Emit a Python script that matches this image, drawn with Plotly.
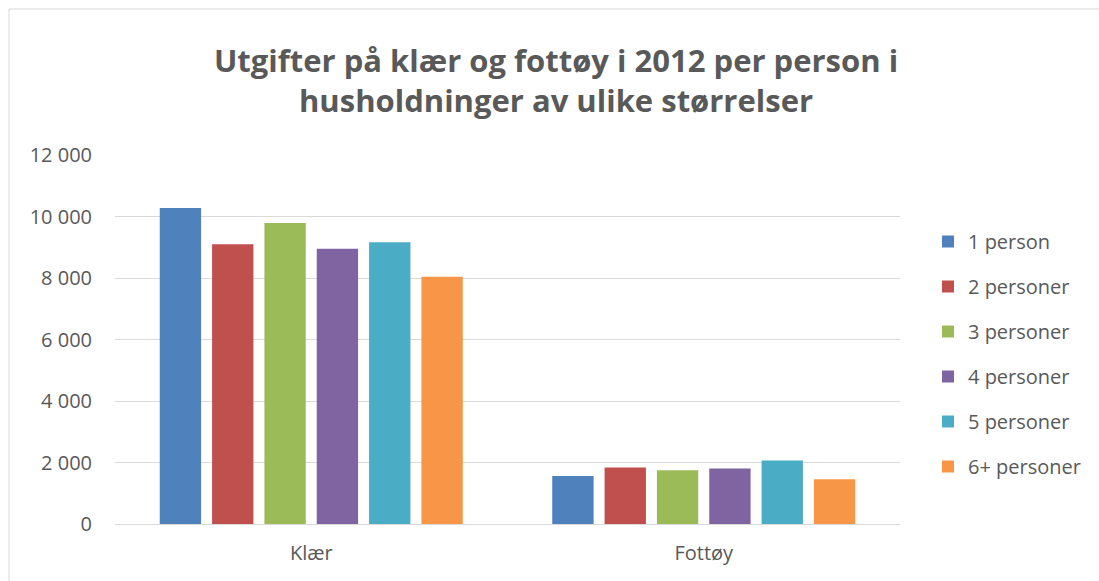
import plotly.graph_objects as go

categories = ["Klær", "Fottøy"]
series_names = ["1 person", "2 personer", "3 personer", "4 personer", "5 personer", "6+ personer"]
values_1 = [10280, 1565]
values_2 = [9100, 1835]
values_3 = [9785, 1750]
values_4 = [8950, 1805]
values_5 = [9165, 2065]
values_6 = [8040, 1455]
colors = ["#4F81BD", "#C0504D", "#9BBB59", "#8064A2", "#4BACC6", "#F79646"]
title_text = "Utgifter på klær og fottøy i 2012 per person i<br>husholdninger av ulike størrelser"

all_values = [values_1, values_2, values_3, values_4, values_5, values_6]

W, H = 1099, 581
L, R, T, B = 115, 199, 155, 57
pw, ph = W - L - R, H - T - B

fig = go.Figure()
for i, (name, vals, col) in enumerate(zip(series_names, all_values, colors)):
    fig.add_trace(go.Bar(
        x=categories, y=vals, name=name, marker_color=col,
        marker_line_width=0, legendgroup=f"g{i}",
    ))

font_family = "Open Sans, Liberation Sans, sans-serif"
fig.update_layout(
    width=W, height=H,
    margin=dict(l=L, r=R, t=T, b=B, pad=0),
    paper_bgcolor="white", plot_bgcolor="white",
    barmode="group", bargap=0.2, bargroupgap=0.21,
    separators=", ",
    font=dict(family=font_family, color="#595959", size=19),
    title=dict(text=title_text, x=556 / W,
               xanchor="center", y=1 - 72 / H, yanchor="middle",
               font=dict(family=font_family, size=31, color="#595959", weight="bold",
                         lineposition="none"),
               ),
    legend=dict(x=(928 - L) / pw, y=1 - (222 - T) / ph, xanchor="left", yanchor="top",
                yref="paper", font=dict(size=20, color="#595959"),
                tracegroupgap=16, itemwidth=30, bgcolor="rgba(0,0,0,0)"),
    showlegend=True,
    xaxis=dict(showgrid=False, showline=True, linecolor="#d9d9d9", linewidth=1,
               ticks="", tickfont=dict(size=20, color="#595959"), ticklabelstandoff=11),
    yaxis=dict(range=[0, 12000], dtick=2000, tickformat=",.0f", showgrid=True,
               gridcolor="#d9d9d9", gridwidth=1, zeroline=False, showline=False,
               ticks="", tickfont=dict(size=20, color="#595959"), ticklabelstandoff=22),
)

fig.add_shape(type="rect", xref="paper", yref="paper",
              x0=(9 - L) / pw, x1=(1120 - L) / pw,
              y0=(-(620 - (T + ph))) / ph, y1=1 + (T - 9) / ph,
              line=dict(color="#d9d9d9", width=1), fillcolor="rgba(0,0,0,0)", layer="below")

fig.write_html("out.html", config={"displayModeBar": False},
               post_script="document.body.style.margin='0';")
